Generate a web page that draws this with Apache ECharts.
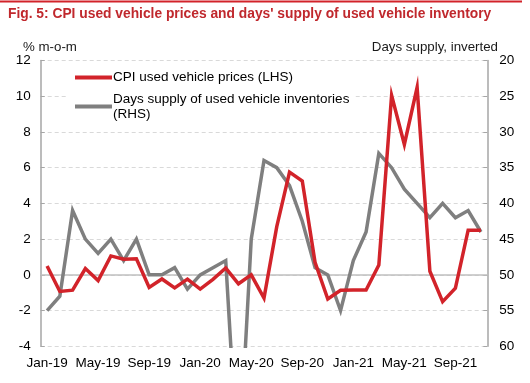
<!DOCTYPE html>
<html>
<head>
<meta charset="utf-8">
<script src="https://cdn.jsdelivr.net/npm/echarts@6/dist/echarts.min.js"></script>
<style>
  html, body { margin: 0; padding: 0; background: #fff; }
  #chart { width: 530px; height: 383px; }
</style>
</head>
<body>
<div id="chart"></div>
<script>
const months = ['Jan-19','Feb-19','Mar-19','Apr-19','May-19','Jun-19','Jul-19','Aug-19','Sep-19','Oct-19','Nov-19','Dec-19',
  'Jan-20','Feb-20','Mar-20','Apr-20','May-20','Jun-20','Jul-20','Aug-20','Sep-20','Oct-20','Nov-20','Dec-20',
  'Jan-21','Feb-21','Mar-21','Apr-21','May-21','Jun-21','Jul-21','Aug-21','Sep-21','Oct-21','Nov-21'];
const cpiUsedVehicle = [0.5, -0.93, -0.86, 0.35, -0.32, 1.06, 0.88, 0.9, -0.7, -0.23, -0.73, -0.24,
  -0.8, -0.25, 0.38, -0.5, 0.0, -1.3, 2.7, 5.75, 5.25, 0.7, -1.35, -0.86,
  -0.85, -0.85, 0.55, 10.05, 7.3, 10.5, 0.2, -1.5, -0.75, 2.5, 2.5];
const daysSupply = [55, 53, 41, 45, 47, 45, 48, 45, 50, 50, 49, 52,
  50, 49, 48, 78, 45, 34, 35, 37.5, 42.5, 49, 50, 55,
  48, 44, 33, 35, 38, 40, 42, 40, 42, 41, 44];
const leftTicks = { min: -4, max: 12, interval: 2 };
const rightTicks = { min: 20, max: 60, interval: 5 };
const titleText = "Fig. 5: CPI used vehicle prices and days' supply of used vehicle inventory";
const leftName = '% m-o-m';
const rightName = 'Days supply, inverted';
const seriesNames = ['CPI used vehicle prices (LHS)', 'Days supply of used vehicle inventories (RHS)'];

const FONT = "'Liberation Sans', Arial, sans-serif";
const RED = '#D2232A';
const GRAY = '#7F7F7F';
const chart = echarts.init(document.getElementById('chart'));
chart.setOption({
  animation: false,
  textStyle: { fontFamily: FONT },
  grid: { left: 40.7, right: 42.7, top: 60.5, bottom: 36.7, containLabel: false },
  graphic: [
    { type: 'rect', shape: { x: 0, y: 0.5, width: 522, height: 2 }, style: { fill: RED } },
    { type: 'text', left: 8, top: 7, style: { text: titleText, font: 'bold 13.8px ' + FONT, fill: '#C0282D' } },
    { type: 'text', left: 23, top: 41, style: { text: leftName, font: '13.3px ' + FONT, fill: '#1a1a1a' } },
    { type: 'text', right: 32, top: 41, style: { text: rightName, font: '13.3px ' + FONT, fill: '#1a1a1a', textAlign: 'right' } }
  ],
  legend: {
    orient: 'vertical',
    left: 67, top: 63,
    padding: [7, 6, 0, 8],
    backgroundColor: '#fff',
    itemWidth: 37, itemHeight: 4, itemGap: -1,
    icon: 'rect',
    textStyle: { fontSize: 13.5, color: '#000', lineHeight: 15, fontFamily: FONT, padding: [0, 0, 0, -4] },
    formatter: function (name) {
      return name === seriesNames[1] ? 'Days supply of used vehicle inventories\n(RHS)' : name;
    },
    data: [
      { name: seriesNames[0] },
      { name: seriesNames[1], textStyle: { padding: [15, 0, 0, -4] } }
    ]
  },
  xAxis: {
    type: 'category',
    data: months,
    boundaryGap: true,
    axisLine: { show: false },
    axisTick: { show: false },
    axisLabel: { interval: 3, margin: 10, fontSize: 13.5, color: '#000', fontFamily: FONT }
  },
  yAxis: [
    {
      type: 'value', min: leftTicks.min, max: leftTicks.max, interval: leftTicks.interval,
      axisLine: { show: true, lineStyle: { color: '#A6A6A6', width: 1.5 } },
      axisTick: { show: true, inside: true, length: 4, lineStyle: { color: '#A6A6A6' } },
      axisLabel: { margin: 10, fontSize: 13.5, color: '#000', fontFamily: FONT },
      splitLine: { show: true, lineStyle: { color: '#D9D9D9', type: [4, 3], width: 1 } }
    },
    {
      type: 'value', inverse: true, min: rightTicks.min, max: rightTicks.max, interval: rightTicks.interval,
      position: 'right',
      axisLine: { show: true, lineStyle: { color: '#A6A6A6', width: 1.5 } },
      axisTick: { show: true, inside: true, length: 4, lineStyle: { color: '#A6A6A6' } },
      axisLabel: { margin: 12, fontSize: 13.5, color: '#000', fontFamily: FONT },
      splitLine: { show: false }
    }
  ],
  series: [
    {
      name: seriesNames[0], type: 'line', yAxisIndex: 0, data: cpiUsedVehicle,
      showSymbol: false, symbol: 'none', z: 3,
      lineStyle: { color: RED, width: 3.5, join: 'miter' }, itemStyle: { color: RED },
      markLine: {
        silent: true, symbol: 'none', label: { show: false }, z: 1,
        lineStyle: { color: '#BFBFBF', type: 'solid', width: 1.5 },
        data: [{ yAxis: 0 }]
      }
    },
    {
      name: seriesNames[1], type: 'line', yAxisIndex: 1, data: daysSupply,
      showSymbol: false, symbol: 'none', z: 2, clip: true,
      lineStyle: { color: GRAY, width: 3.5, join: 'miter' }, itemStyle: { color: GRAY }
    }
  ]
});
</script>
</body>
</html>
